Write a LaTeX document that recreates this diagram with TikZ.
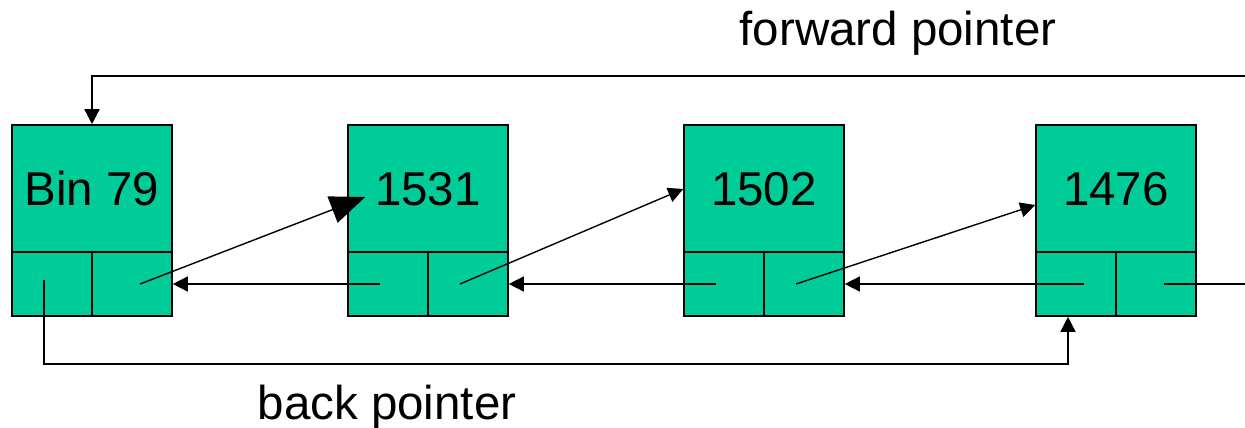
\documentclass[tikz,border=0pt]{standalone}
\usepackage{fontspec}
\setmainfont{Liberation Sans}
\usetikzlibrary{arrows.meta}
\definecolor{cellgreen}{HTML}{00CC99}
\begin{document}
\begin{tikzpicture}[x=1pt,y=-1pt,
  top/.style={draw,line width=1.6pt,fill=cellgreen,minimum width=160pt,minimum height=128pt,inner sep=0pt,font=\fontsize{47.5}{47.5}\selectfont},
  cell/.style={draw,line width=1.6pt,fill=cellgreen,minimum width=80pt,minimum height=64pt,inner sep=0pt},
  link/.style={line width=1.4pt,-{Triangle[length=15pt,width=15pt]}},
  plain/.style={line width=1.4pt},
  lbl/.style={font=\fontsize{47.5}{47.5}\selectfont,inner sep=0pt}]
\useasboundingbox (0,0) rectangle (1245,428);

% list elements: header cell and two pointer cells each
\foreach \n/\x/\t in {b0/92/Bin 79,b1/428/1531,b2/764/1502,b3/1116/1476}{
  \node[top]  (\n)  at (\x,189) {\t};
  \node[cell] (\n l) at (\x-40,284) {};
  \node[cell] (\n r) at (\x+40,284) {};
}

% pointer anchors inside the cells
\coordinate (f0) at ([xshift=8pt]b0r.center);
\coordinate (f1) at ([xshift=-8pt]b1r.center);
\coordinate (f2) at ([xshift=-8pt]b2r.center);
\coordinate (k1) at ([xshift=-8pt]b1l.center);
\coordinate (k2) at ([xshift=-8pt]b2l.center);
\coordinate (k3) at ([xshift=8pt]b3l.center);
\coordinate (k4) at ([xshift=8pt]b3r.center);
\coordinate (e0) at ([xshift=-8pt,yshift=4pt]b0l.center);
\coordinate (rf) at (1245,76);
\coordinate (rb) at (1245,284);

% forward links
\draw[line width=1.4pt,-{Triangle[length=35pt,width=28pt]}] (f0) -- ([xshift=18pt,yshift=-8pt]b1.west);
\draw[link] (f1) -- (b2.west);
\draw[link] (f2) -- ([yshift=-16pt]b3.west);

% backward links
\draw[link] (k1) -- (b0r.east);
\draw[link] (k2) -- (b1r.east);
\draw[link] (k3) -- (b2r.east);
\draw[plain] (rb) -- (k4);

% forward pointer around the top
\draw[link] (rf) -| (b0.north);
% back pointer along the bottom
\draw[link] (e0) |- (1068,364) -- ([xshift=-8pt]b3l.south);

\node[lbl] (fwd) at (898,33) {forward pointer};
\node[lbl] (bck) at (387,407) {back pointer};
\end{tikzpicture}
\end{document}
